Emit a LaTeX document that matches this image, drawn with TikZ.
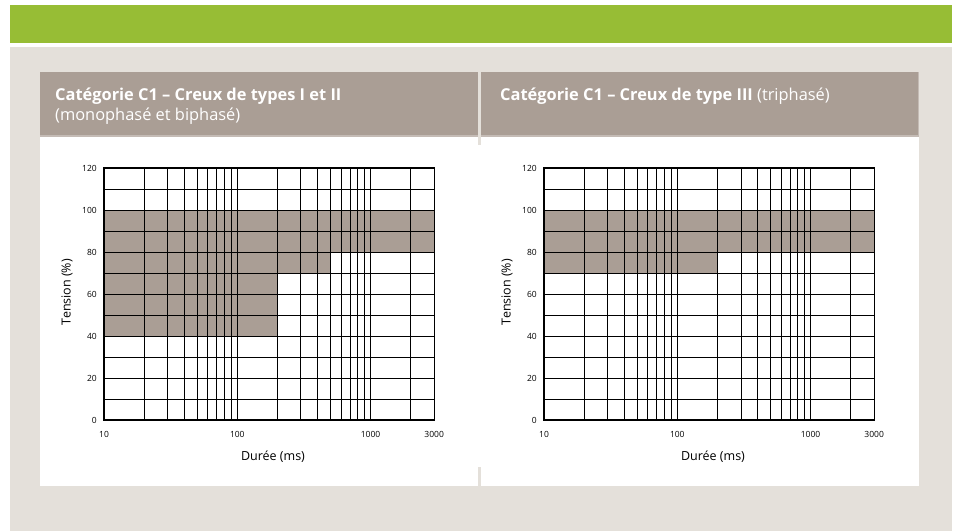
\documentclass[tikz,border=0pt]{standalone}
\usepackage{fontspec}
\setmainfont{Open Sans}
\definecolor{bandgreen}{HTML}{97BD35}
\definecolor{paper}{HTML}{E4E0DA}
\definecolor{taupe}{HTML}{AA9E95}
\tikzset{
	gridline/.style={black, line width=0.8pt},
	decline/.style={black, line width=1.2pt},
	frameline/.style={black, line width=1.3pt},
	ticklbl/.style={font=\fontsize{8.5}{10}\selectfont, inner sep=1pt},
	axlbl/.style={font=\fontsize{12.5}{14}\selectfont, inner sep=0pt},
	headtxt/.style={text=white, font=\fontsize{16.4}{20}\selectfont, anchor=base west, inner sep=0pt},
}
\begin{document}
\begin{tikzpicture}[x=1pt,y=-1pt]
			\useasboundingbox (0,0) rectangle (955,531);
			%Background and green band
			\fill[paper] (10,43) rectangle (952,531);
			\fill[bandgreen] (10,5) rectangle (952,43);
			\fill[white] (10,43) rectangle (952,46.5);
			
			%Headers
			\fill[taupe!70!white] (40,72) rectangle (478,137);
			\fill[taupe] (40,72) rectangle (477.5,135);
			\fill[taupe!70!white] (481,72) rectangle (918.5,137);
			\fill[taupe] (481,72) rectangle (918,135);
			\node[headtxt] (head-l) at (55,100) {\bfseries Catégorie C1 -- Creux de types I et II};
			\node[headtxt] (head-l2) at (55,120.5) {(monophasé et biphasé)};
			\node[headtxt] (head-r) at (500,100.5) {{\bfseries Catégorie C1 -- Creux de type III} (triphasé)};
			
			%White panel with separator stubs
			\fill[white] (40,137) rectangle (918.5,485.5);
			\fill[paper] (477.7,137) rectangle (480.5,145);
			\fill[paper] (477.7,466.7) rectangle (480.5,485.5);
			
			%Left chart
			\def\xo{104}
			\def\dec{133.3}
			\fill[taupe] (\xo,210) rectangle ({\xo+\dec*log10(300)},252);
			\fill[taupe] (\xo,252) rectangle ({\xo+\dec*log10(50)},273);
			\fill[taupe] (\xo,273) rectangle ({\xo+\dec*log10(20)},336);
			\foreach \v in {10,20,...,110}
				\draw[gridline] (\xo,420-2.1*\v) -- ({\xo+\dec*log10(300)},420-2.1*\v);
			\foreach \t in {20,30,...,90,200,300,...,900,2000}
				\draw[gridline] ({\xo+\dec*log10(\t/10)},168) -- ++(0,252);
			\foreach \t in {100,1000}
				\draw[decline] ({\xo+\dec*log10(\t/10)},168) -- ++(0,252);
			\draw[frameline] (\xo,168) rectangle ({\xo+\dec*log10(300)},420);
			\foreach \v in {0,20,...,120}
				\node[ticklbl, anchor=east] (yt-l-\v) at (\xo-6,420-2.1*\v) {\v};
			\foreach \t in {10,100,1000,3000}
				\node[ticklbl] (xt-l-\t) at ({\xo+\dec*log10(\t/10)},434) {\t};
			\node[axlbl, rotate=90] (ylab-l) at (67,292) {Tension (\%)};
			\node[axlbl] (xlab-l) at (273,457) {Durée (ms)};
			
			%Right chart
			\def\xo{544}
			\fill[taupe] (\xo,210) rectangle ({\xo+\dec*log10(300)},252);
			\fill[taupe] (\xo,252) rectangle ({\xo+\dec*log10(20)},273);
			\foreach \v in {10,20,...,110}
				\draw[gridline] (\xo,420-2.1*\v) -- ({\xo+\dec*log10(300)},420-2.1*\v);
			\foreach \t in {20,30,...,90,200,300,...,900,2000}
				\draw[gridline] ({\xo+\dec*log10(\t/10)},168) -- ++(0,252);
			\foreach \t in {100,1000}
				\draw[decline] ({\xo+\dec*log10(\t/10)},168) -- ++(0,252);
			\draw[frameline] (\xo,168) rectangle ({\xo+\dec*log10(300)},420);
			\foreach \v in {0,20,...,120}
				\node[ticklbl, anchor=east] (yt-r-\v) at (\xo-6,420-2.1*\v) {\v};
			\foreach \t in {10,100,1000,3000}
				\node[ticklbl] (xt-r-\t) at ({\xo+\dec*log10(\t/10)},434) {\t};
			\node[axlbl, rotate=90] (ylab-r) at (507,292) {Tension (\%)};
			\node[axlbl] (xlab-r) at (713,457) {Durée (ms)};
		\end{tikzpicture}
\end{document}
